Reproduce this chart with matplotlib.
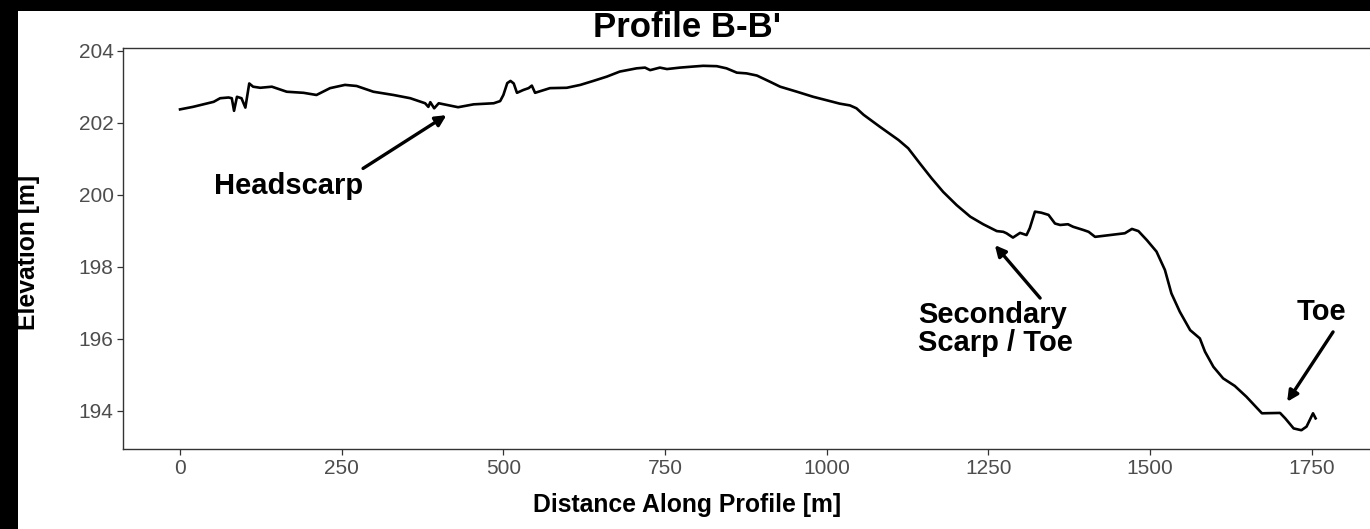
import matplotlib
matplotlib.use("Agg")
import matplotlib.pyplot as plt
from matplotlib.patches import Rectangle

# Elevation profile B-B'
distance_m = [0, 20, 36, 52, 62, 75, 80, 83.5, 88, 95, 101, 107, 113, 124, 142,
              165, 191, 211, 232, 255, 273, 299, 330, 356, 379, 384, 387, 393,
              400, 430, 454, 485, 495, 500, 506, 511, 516, 521, 531, 539, 544,
              549, 572, 598, 619, 639, 660, 680, 706, 719, 727, 742, 753, 773,
              794, 809, 830, 845, 861, 876, 892, 912, 928, 954, 979, 1005, 1020,
              1036, 1046, 1057, 1082, 1111, 1126, 1144, 1162, 1180, 1201, 1222,
              1242, 1263, 1273, 1278, 1288, 1299, 1309, 1314, 1322, 1332, 1343,
              1353, 1361, 1373, 1381, 1397, 1405, 1415, 1438, 1461, 1472, 1482,
              1495, 1510, 1523, 1533, 1546, 1562, 1577, 1585, 1598, 1613, 1631,
              1649, 1673, 1701, 1709, 1722, 1734, 1742, 1752, 1756]
elevation_m = [202.37, 202.44, 202.51, 202.58, 202.68, 202.70, 202.68, 202.33,
               202.72, 202.68, 202.42, 203.09, 203.00, 202.97, 203.00, 202.86,
               202.83, 202.77, 202.96, 203.05, 203.02, 202.86, 202.77, 202.68,
               202.54, 202.44, 202.57, 202.40, 202.54, 202.43, 202.51, 202.54,
               202.60, 202.77, 203.10, 203.16, 203.09, 202.83, 202.91, 202.96,
               203.03, 202.83, 202.96, 202.97, 203.05, 203.16, 203.28, 203.42,
               203.51, 203.53, 203.46, 203.53, 203.49, 203.53, 203.56, 203.58,
               203.57, 203.51, 203.39, 203.37, 203.31, 203.14, 203.00, 202.86,
               202.72, 202.60, 202.53, 202.48, 202.40, 202.22, 201.89, 201.52,
               201.29, 200.87, 200.46, 200.08, 199.71, 199.39, 199.18, 198.99,
               198.97, 198.93, 198.81, 198.94, 198.88, 199.07, 199.53, 199.50,
               199.44, 199.20, 199.16, 199.18, 199.11, 199.02, 198.97, 198.83,
               198.88, 198.93, 199.05, 198.99, 198.74, 198.42, 197.91, 197.26,
               196.75, 196.24, 196.01, 195.64, 195.22, 194.90, 194.69, 194.39,
               193.93, 193.94, 193.79, 193.51, 193.46, 193.56, 193.93, 193.79]

x_ticks = [0, 250, 500, 750, 1000, 1250, 1500, 1750]
y_ticks = [194, 196, 198, 200, 202, 204]

# Annotations: label, text anchor (x, y), arrow tail (x, y), arrow tip (x, y)
labels = ["Headscarp", "Secondary\nScarp / Toe", "Toe"]
label_xy = [(52, 200.24), (1141, 196.28), (1765, 196.74)]
arrow_from = [(283, 200.73), (1330, 197.13), (1783, 196.19)]
arrow_to = [(412, 202.21), (1260, 198.60), (1712, 194.25)]
label_ha = ["left", "left", "center"]

W, H = 1370, 529
fig = plt.figure(figsize=(W / 100, H / 100), dpi=100, facecolor="white")

left, right = 123.3 / W, 1371.7 / W
bottom, top = (H - 449.3) / H, (H - 47.7) / H
ax = fig.add_axes([left, bottom, right - left, top - bottom])

ax.plot(distance_m, elevation_m, color="black", lw=1.9, solid_joinstyle="round")

ax.set_xlim(-87.75, 1842.75)
ax.set_ylim(192.93, 204.083)
ax.set_xticks(x_ticks)
ax.set_yticks(y_ticks)

font = "Liberation Sans"
for lab in ax.get_xticklabels() + ax.get_yticklabels():
    lab.set_fontfamily(font)
    lab.set_fontsize(15)
    lab.set_color("#4D4D4D")
ax.tick_params(axis="both", length=4, width=0.9, color="#333333", pad=3)
for sp in ax.spines.values():
    sp.set_color("#333333")
    sp.set_linewidth(1.0)

for text, (tx, ty), (fx, fy), (px, py), ha in zip(labels, label_xy, arrow_from,
                                                   arrow_to, label_ha):
    ax.text(tx, ty, text, ha=ha, va="center", fontsize=21, fontweight="bold",
            family=font, linespacing=1.0)
    ax.annotate("", xy=(px, py), xytext=(fx, fy),
                arrowprops=dict(arrowstyle="-|>", color="black", lw=2.4,
                                mutation_scale=16, shrinkA=0, shrinkB=0))

fig.text(687 / W, 1 - 37 / H, "Profile B-B'", ha="center", va="baseline",
         fontsize=25, fontweight="bold", family=font)
fig.text(687 / W, 1 - 505 / H, "Distance Along Profile [m]", ha="center",
         va="center", fontsize=17.8, fontweight="bold", family=font)
fig.text(28 / W, 1 - 252 / H, "Elevation [m]", ha="center", va="center",
         rotation=90, fontsize=17.8, fontweight="bold", family=font)

# dark frame along the top and left edges, drawn over everything else
fig.add_artist(Rectangle((0, 0), 18 / W, 1, transform=fig.transFigure,
                         facecolor="black", edgecolor="none", zorder=10))
fig.add_artist(Rectangle((0, 1 - 11 / H), 1, 11 / H, transform=fig.transFigure,
                         facecolor="black", edgecolor="none", zorder=10))

fig.savefig("out.png", dpi=100, facecolor="white")
